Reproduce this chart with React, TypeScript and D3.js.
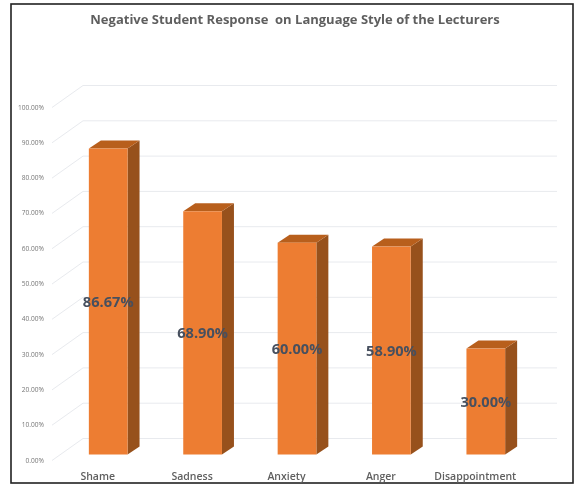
import React from "react";
import * as d3 from "d3";

const categories = ["Shame", "Sadness", "Anxiety", "Anger", "Disappointment"];
const values = [86.67, 68.9, 60.0, 58.9, 30.0];
const valueLabels = ["86.67%", "68.90%", "60.00%", "58.90%", "30.00%"];
const ticks = [0, 10, 20, 30, 40, 50, 60, 70, 80, 90, 100];
const title = "Negative Student Response  on Language Style of the Lecturers";

const W = 578, H = 485;
const FONT = "'Open Sans', Lato, sans-serif";

export default function App() {
  const y = d3.scaleLinear().domain([0, 100]).range([454.5, 101.5]);
  const x = d3.scaleBand().domain(categories).range([61, 533]).paddingInner(0.59).paddingOuter(0.295);
  const depthX = 12, depthY = 8;
  const gridDx = 31, gridDy = 22;
  const frontLeft = 52, backRight = 557;
  return (
    <svg width={W} height={H} viewBox={`0 0 ${W} ${H}`} style={{ position: "absolute", left: 0, top: 0, background: "#fff" }}>
      <defs>
        <filter id="soft" x="-5%" y="-5%" width="110%" height="110%">
          <feGaussianBlur stdDeviation="0.65" />
        </filter>
      </defs>
      <g filter="url(#soft)">
        <rect x={11} y={4} width={562} height={479} fill="#fff" stroke="#222" strokeWidth={1.6} />
        <text x={295} y={24} textAnchor="middle" fontFamily={FONT} fontWeight={700} fontSize={13} fill="#5f5f5f" style={{ whiteSpace: "pre" }}>{title}</text>
        {ticks.map((t) => {
          const fy = y(t) + 6;
          return (
            <g key={t}>
              <path d={`M${frontLeft},${fy}L${frontLeft + gridDx},${fy - gridDy}L${backRight},${fy - gridDy}`} fill="none" stroke="#e8eaee" strokeWidth={1} />
              <text x={44} y={fy + 2} textAnchor="end" fontFamily={FONT} fontSize={6.6} fill="#777">{t.toFixed(2)}%</text>
            </g>
          );
        })}
        {categories.map((c, i) => {
          const x0 = x(c)!, x1 = x0 + x.bandwidth();
          const yTop = y(values[i]), yBase = y(0);
          return (
            <g key={c}>
              <path d={`M${x1},${yTop}L${x1 + depthX},${yTop - depthY}L${x1 + depthX},${yBase - depthY}L${x1},${yBase}Z`} fill="#97511c" />
              <path d={`M${x0},${yTop}L${x0 + depthX},${yTop - depthY}L${x1 + depthX},${yTop - depthY}L${x1},${yTop}Z`} fill="#b85f1e" />
              <rect x={x0} y={yTop} width={x.bandwidth()} height={yBase - yTop} fill="#ed7d31" />
            </g>
          );
        })}
        {categories.map((c, i) => {
          const cx = x(c)! + x.bandwidth() / 2;
          const yMid = (y(values[i]) + y(0)) / 2;
          return (
            <g key={c}>
              <text x={cx} y={yMid + 5} textAnchor="middle" fontFamily={FONT} fontWeight={700} fontSize={14.6} fill="#47505e">{valueLabels[i]}</text>
              <text x={cx - 10.5} y={479.5} textAnchor="middle" fontFamily={FONT} fontWeight={600} fontSize={10.5} fill="#5f5f5f">{c}</text>
            </g>
          );
        })}
      </g>
    </svg>
  );
}
